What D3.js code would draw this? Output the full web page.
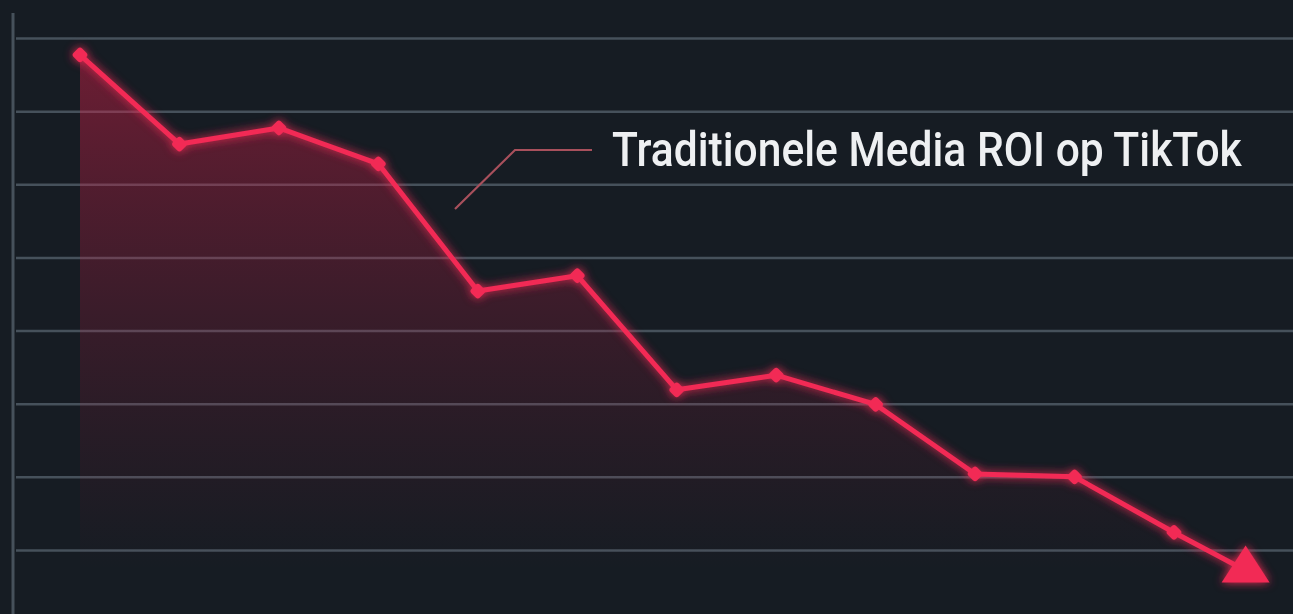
<!DOCTYPE html>
<html><head><meta charset="utf-8">
<script src="https://cdn.jsdelivr.net/npm/d3@7/dist/d3.min.js"></script>
<style>html,body{margin:0;padding:0;background:#161c23;}svg{display:block;}</style>
</head><body>
<svg id="c" width="1293" height="614"></svg>
<script>
// Data (arbitrary units, no axis labels shown)
const periods = [0,1,2,3,4,5,6,7,8,9,10,11];
const roiValues = [7.77,6.55,6.77,6.28,4.54,4.75,3.19,3.39,2.99,2.04,2.0,1.24];
const endPeriod = 11.72;   // arrow tip position
const endValue = 0.72;
const gridTicks = [1,2,3,4,5,6,7,8];
const seriesLabel = "Traditionele Media ROI op TikTok";

const W = 1293, H = 614;
const svg = d3.select("#c");
const x = d3.scaleLinear().domain([0,11]).range([80,1174]);
const y = d3.scaleLinear().domain([1,8]).range([550,38]);

const defs = svg.append("defs");
const grad = defs.append("linearGradient").attr("id","fillG")
  .attr("gradientUnits","userSpaceOnUse").attr("x1",0).attr("y1",y(8)).attr("x2",0).attr("y2",570);
grad.append("stop").attr("offset",0).attr("stop-color","#e0204a").attr("stop-opacity",0.45);
grad.append("stop").attr("offset",0.5).attr("stop-color","#c01c44").attr("stop-opacity",0.22);
grad.append("stop").attr("offset",1).attr("stop-color","#a01838").attr("stop-opacity",0.0);
const glow = defs.append("filter").attr("id","glow").attr("x","-20%").attr("y","-20%").attr("width","140%").attr("height","140%");
glow.append("feGaussianBlur").attr("in","SourceGraphic").attr("stdDeviation",5).attr("result","b");
const m = glow.append("feMerge");
m.append("feMergeNode").attr("in","b");
m.append("feMergeNode").attr("in","SourceGraphic");

svg.append("rect").attr("width",W).attr("height",H).attr("fill","#161c23");

// gridlines
const yAxis = d3.axisLeft(y).tickValues(gridTicks).tickSize(-(W-16)).tickFormat("");
const gy = svg.append("g").attr("transform","translate(16,0)").call(yAxis);
gy.select(".domain").remove();
gy.selectAll(".tick line").attr("stroke","#46515b").attr("stroke-width",2.5);

// vertical axis line
svg.append("line").attr("x1",13).attr("x2",13).attr("y1",13).attr("y2",H)
  .attr("stroke","#46515b").attr("stroke-width",3);

const pts = periods.map((p,i)=>[p, roiValues[i]]);
const allPts = pts.concat([[endPeriod,endValue]]);

// area
const area = d3.area().x(d=>x(d[0])).y0(H).y1(d=>y(d[1]));
svg.append("path").datum(allPts).attr("d",area).attr("fill","url(#fillG)");

// line with glow
const line = d3.line().x(d=>x(d[0])).y(d=>y(d[1]));
const g = svg.append("g").attr("filter","url(#glow)");
g.append("path").datum(allPts).attr("d",line).attr("fill","none")
  .attr("stroke","#f22a55").attr("stroke-width",5).attr("stroke-linejoin","round");
g.selectAll("rect.pt").data(pts).join("rect").attr("class","pt")
  .attr("x",-6).attr("y",-6).attr("width",12).attr("height",12).attr("rx",3)
  .attr("transform",d=>`translate(${x(d[0])},${y(d[1])}) rotate(45)`)
  .attr("fill","#f22a55");
// arrow triangle
const tx = x(endPeriod), ty = y(endValue);
g.append("path").attr("d",`M${tx},${ty-25} L${tx+24},${ty+12} L${tx-24},${ty+12} Z`).attr("fill","#f22a55");

// callout
svg.append("path").attr("d","M455,209 L515,150 L592,150").attr("fill","none")
  .attr("stroke","#a8505c").attr("stroke-width",2.2);
const lbl = svg.append("text").attr("x",0).attr("y",0).text(seriesLabel)
  .attr("font-family","Roboto, 'DejaVu Sans', sans-serif").attr("font-weight",500)
  .attr("font-size",48).attr("fill","#eef0f2");
const natural = lbl.node().getComputedTextLength();
const sx = Math.min(1, 630 / natural);
lbl.attr("transform",`translate(612,166) scale(${sx},1)`);
</script>
</body></html>
